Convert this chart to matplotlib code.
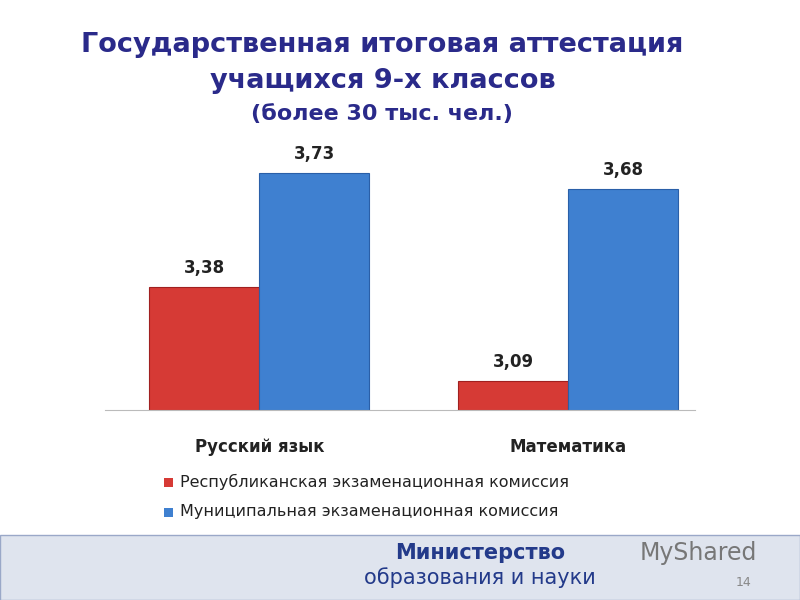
import matplotlib.pyplot as plt
import numpy as np
from matplotlib.patches import Rectangle

categories = ['Русский язык', 'Математика']
republic = [3.38, 3.09]
municipal = [3.73, 3.68]
series_names = ['Республиканская экзаменационная комиссия',
                'Муниципальная экзаменационная комиссия']

plt.rcParams['font.family'] = ['DejaVu Sans']
fig = plt.figure(figsize=(8, 6), dpi=100)
fig.patch.set_facecolor('white')

# title
fig.text(0.478, 0.925, 'Государственная итоговая аттестация', ha='center', va='center',
         fontsize=19.5, fontweight='bold', color='#2a2a8a')
fig.text(0.478, 0.865, 'учащихся 9-х классов', ha='center', va='center',
         fontsize=19.5, fontweight='bold', color='#2a2a8a')
fig.text(0.478, 0.81, '(более 30 тыс. чел.)', ha='center', va='center',
         fontsize=16, fontweight='bold', color='#2a2a8a')

ax = fig.add_axes([0.131, 0.3167, 0.7375, 0.433])
x = np.arange(len(categories))
w = 0.356
b1 = ax.bar(x - w / 2, np.array(republic) - 3.0, w, bottom=3.0, color='#d63a35',
            edgecolor='#a02020', linewidth=0.8)
b2 = ax.bar(x + w / 2, np.array(municipal) - 3.0, w, bottom=3.0, color='#3f80d0',
            edgecolor='#2a5fa8', linewidth=0.8)
for bars, vals in [(b1, republic), (b2, municipal)]:
    for bar, v in zip(bars, vals):
        ax.text(bar.get_x() + bar.get_width() / 2, v + 0.03, f'{v:.2f}'.replace('.', ','),
                ha='center', va='bottom', fontsize=12, fontweight='bold', color='#222222')
ax.set_xlim(-0.5, 1.41)
ax.set_ylim(3.0, 3.8)
for s in ['top', 'right', 'left']:
    ax.spines[s].set_visible(False)
ax.spines['bottom'].set_color('#bbbbbb')
ax.set_yticks([])
ax.set_xticks(x)
ax.set_xticklabels(categories, fontsize=12, fontweight='bold', color='#222222')
ax.tick_params(axis='x', length=0, pad=20)

# legend
fig.patches.append(Rectangle((0.205, 0.188), 0.011, 0.016, transform=fig.transFigure,
                             facecolor='#d63a35', edgecolor='none'))
fig.patches.append(Rectangle((0.205, 0.138), 0.011, 0.016, transform=fig.transFigure,
                             facecolor='#3f80d0', edgecolor='none'))
fig.text(0.225, 0.197, series_names[0], va='center', fontsize=11.5, color='#222222')
fig.text(0.225, 0.147, series_names[1], va='center', fontsize=11.5, color='#222222')

# footer
fig.patches.append(Rectangle((0, 0), 1, 0.108, transform=fig.transFigure,
                             facecolor='#dfe4ee', edgecolor='#9aa8c8', linewidth=1))
fig.text(0.6, 0.078, 'Министерство', ha='center', va='center', fontsize=15,
         fontweight='bold', color='#233a8a')
fig.text(0.6, 0.037, 'образования и науки', ha='center', va='center', fontsize=15,
         color='#233a8a')
fig.text(0.8, 0.078, 'MyShared', ha='left', va='center', fontsize=17, color='#777777')
fig.text(0.93, 0.03, '14', ha='center', va='center', fontsize=9, color='#888888')

fig.savefig('out.png', dpi=100)
